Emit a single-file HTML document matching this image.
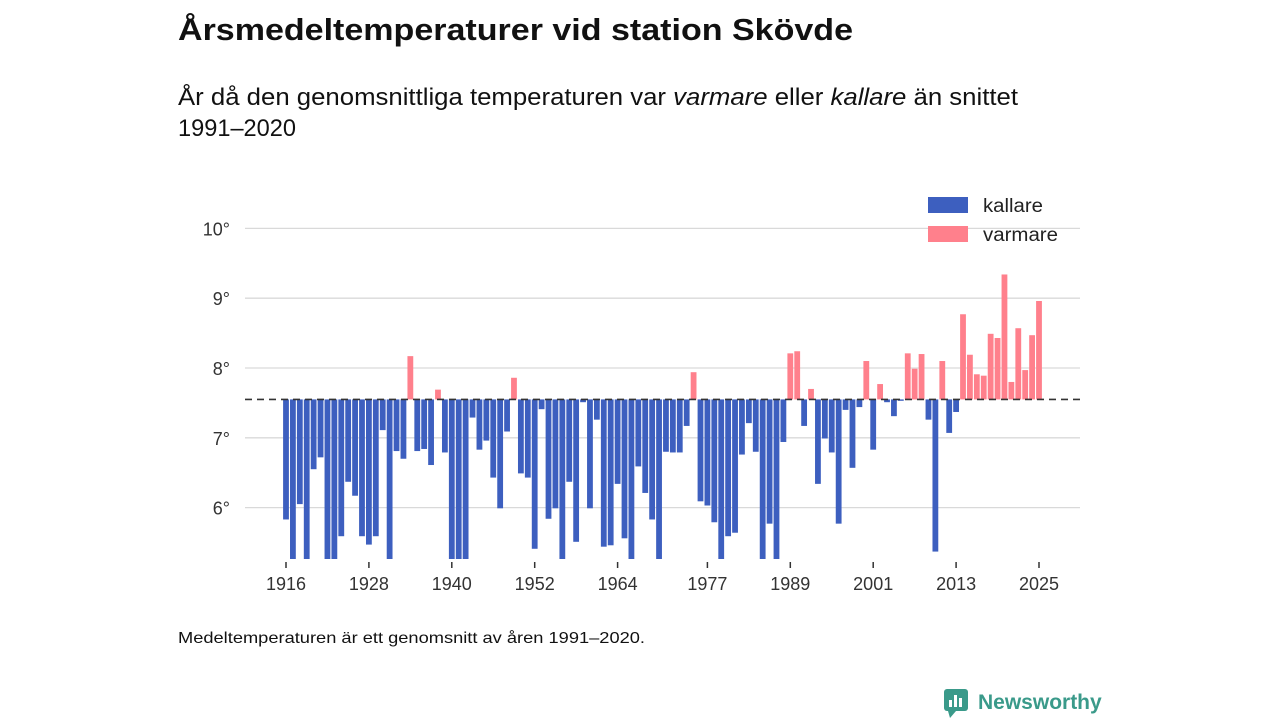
<!DOCTYPE html>
<html><head><meta charset="utf-8">
<style>
html,body{margin:0;padding:0;background:#fff;width:1280px;height:720px;overflow:hidden;font-family:"Liberation Sans",sans-serif;color:#111;}
</style></head>
<body>
<svg id="chart" width="1280" height="720" xmlns="http://www.w3.org/2000/svg" font-family="Liberation Sans, sans-serif">
<text x="178" y="40" font-size="31" font-weight="bold" fill="#111" textLength="675" lengthAdjust="spacingAndGlyphs">Årsmedeltemperaturer vid station Skövde</text>
<text x="178" y="105" font-size="24" fill="#111" textLength="840" lengthAdjust="spacingAndGlyphs">År då den genomsnittliga temperaturen var <tspan font-style="italic">varmare</tspan> eller <tspan font-style="italic">kallare</tspan> än snittet</text>
<text x="178" y="136" font-size="24" fill="#111" textLength="118" lengthAdjust="spacingAndGlyphs">1991–2020</text>
<defs><clipPath id="plotclip"><rect x="240" y="150" width="850" height="409"/></clipPath></defs>
<g id="grid"></g>
<g id="bars" clip-path="url(#plotclip)"></g>
<g id="xaxis"></g>
<line id="meanline" x1="245" x2="1080" stroke="#333" stroke-width="1.6" stroke-dasharray="7,5"/>
<g>
<rect x="928" y="197" width="40" height="16" fill="#3d5fbf"/>
<text x="983" y="212" font-size="19" fill="#222" textLength="60" lengthAdjust="spacingAndGlyphs">kallare</text>
<rect x="928" y="226" width="40" height="16" fill="#ff808c"/>
<text x="983" y="241" font-size="19" fill="#222" textLength="75" lengthAdjust="spacingAndGlyphs">varmare</text>
</g>
<text x="178" y="643" font-size="16" fill="#111" textLength="467" lengthAdjust="spacingAndGlyphs">Medeltemperaturen är ett genomsnitt av åren 1991–2020.</text>
<g>
<rect x="944" y="689" width="24" height="22" rx="3" fill="#3a9a8a"/>
<polygon points="948,711 956,711 950,718" fill="#3a9a8a"/>
<rect x="949" y="700" width="3" height="7" fill="#fff"/><rect x="954" y="695" width="3" height="12" fill="#fff"/><rect x="959" y="698" width="3" height="9" fill="#fff"/>
<text x="978" y="709" font-size="21" font-weight="bold" fill="#3a9a8a">Newsworthy</text>
</g>
</svg>
<script>
const years = [];
for (let y = 1916; y <= 2025; y++) years.push(y);
const temps = [5.83,5.2,6.05,5.2,6.55,6.72,5.2,5.2,5.59,6.37,6.17,5.59,5.47,5.59,7.11,5.2,6.81,6.70,8.17,6.81,
6.84,6.61,7.69,6.79,5.2,5.2,5.2,7.29,6.83,6.96,6.43,5.99,7.09,7.86,6.49,6.43,5.41,7.41,5.84,5.99,
5.2,6.37,5.51,7.51,5.99,7.26,5.44,5.46,6.34,5.56,5.2,6.59,6.21,5.83,5.2,6.80,6.79,6.79,7.17,7.94,
6.09,6.03,5.79,5.2,5.59,5.64,6.76,7.21,6.80,5.2,5.77,5.2,6.94,8.21,8.24,7.17,7.70,6.34,6.99,6.79,
5.77,7.40,6.57,7.44,8.10,6.83,7.77,7.51,7.31,7.53,8.21,7.99,8.20,7.26,5.37,8.10,7.07,7.37,8.77,8.19,
7.91,7.89,8.49,8.43,9.34,7.80,8.57,7.97,8.47,8.96];
const mean = 7.55;
const yTicks = [6,7,8,9,10];
const xTickYears = [1916,1928,1940,1952,1964,1977,1989,2001,2013,2025];
const NS = "http://www.w3.org/2000/svg";
const xs = yr => 286 + (yr - 1916) * (1039 - 286) / 109;
const ys = v => 368 - (v - 8) * 69.8;
function mk(tag, attrs, parent){const e=document.createElementNS(NS,tag);for(const k in attrs)e.setAttribute(k,attrs[k]);parent.appendChild(e);return e;}
const grid = document.getElementById('grid');
yTicks.forEach(t=>{
  const l = mk('line',{x1:245,x2:1080,y1:ys(t),y2:ys(t),stroke:'#d9d9d9','stroke-width':1.3},grid);
  
  
  const tx = mk('text',{x:230,y:ys(t)+7,'text-anchor':'end','font-size':18,fill:'#333'},grid);
  tx.textContent = t + '°';
  
  
});
const bars = document.getElementById('bars');
years.forEach((yr,i)=>{
  const v = temps[i];
  const y0 = ys(mean), y1 = ys(v);
  const r = mk('rect',{x:xs(yr)-2.9,width:5.8,y:Math.min(y0,y1),height:Math.abs(y1-y0),fill: v>=mean?'#ff808c':'#3d5fbf'},bars);
  
  
});
const xaxis = document.getElementById('xaxis');
xTickYears.forEach(yr=>{
  const l = mk('line',{x1:xs(yr),x2:xs(yr),y1:562,y2:568,stroke:'#333','stroke-width':1.5},xaxis);
  
  
  const tx = mk('text',{x:xs(yr),y:590,'text-anchor':'middle','font-size':18,fill:'#333'},xaxis);
  tx.textContent = yr;
  
  
});
const ml = document.getElementById('meanline');
ml.setAttribute('y1', ys(mean)); ml.setAttribute('y2', ys(mean));
</script>
</body></html>
